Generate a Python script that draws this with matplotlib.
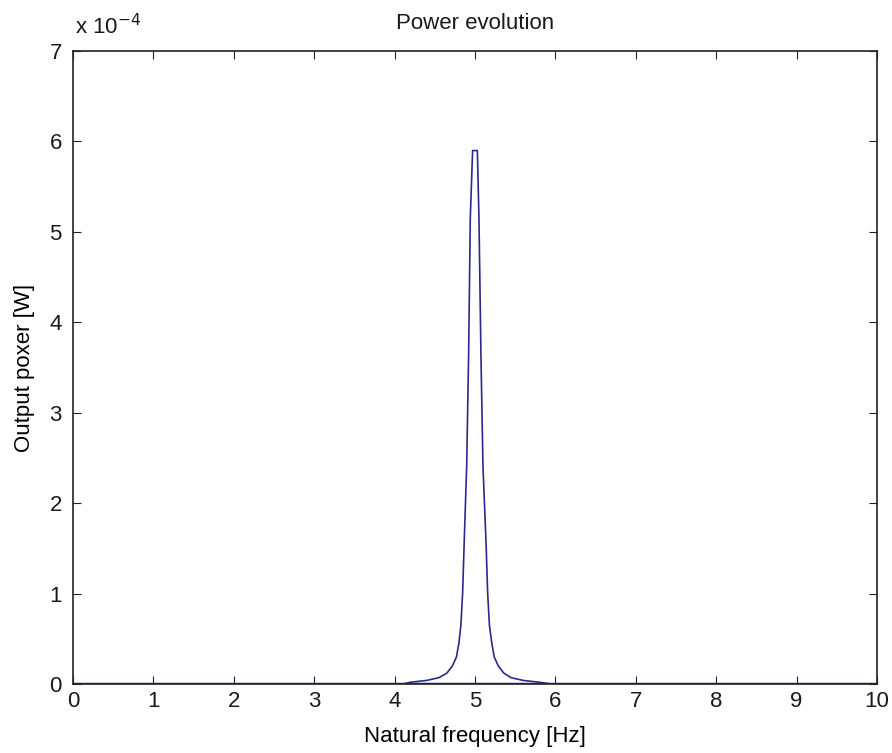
import matplotlib
matplotlib.use('Agg')
import matplotlib.pyplot as plt

# frequency [Hz] and output power [x 1e-4 W]
freq = [0.0, 4.1, 4.2, 4.4, 4.55, 4.65, 4.72, 4.77, 4.80, 4.825, 4.847, 4.867,
        4.897, 4.921, 4.942, 4.971, 5.03, 5.05, 5.075, 5.10, 5.137, 5.158,
        5.18, 5.21, 5.24, 5.29, 5.36, 5.45, 5.6, 5.8, 5.95, 10.0]
power = [0.0, 0.0, 0.02, 0.04, 0.07, 0.12, 0.2, 0.3, 0.45, 0.65, 1.01, 1.59,
         2.40, 3.62, 5.15, 5.90, 5.90, 5.15, 3.62, 2.40, 1.59, 1.01,
         0.65, 0.45, 0.3, 0.2, 0.12, 0.07, 0.04, 0.02, 0.0, 0.0]

xticks = [0, 1, 2, 3, 4, 5, 6, 7, 8, 9, 10]
yticks = [0, 1, 2, 3, 4, 5, 6, 7]


def graf():
    plt.rcParams['font.family'] = ['Liberation Sans', 'DejaVu Sans']
    plt.rcParams['font.size'] = 16
    plt.rcParams['text.color'] = '#1a1a1a'

    fig = plt.figure(figsize=(8.92, 7.53), dpi=100)
    ax = fig.add_axes([0.0818, 0.0916, 0.9013, 0.8406])

    ax.plot(freq, power, color='#2a2a8c', linewidth=1.2)
    ax.axhline(0, color='#2a2a8c', linewidth=2.5)

    ax.set_xlim(0, 10)
    ax.set_ylim(0, 7)
    ax.set_xticks(xticks)
    ax.set_yticks(yticks)
    ax.tick_params(direction='in', top=True, right=True, length=6, width=0.8,
                   labelsize=16, color='#222222', labelcolor='#1a1a1a')
    ax.tick_params(axis='y', pad=8)
    ax.tick_params(axis='x', pad=5)
    for s in ax.spines.values():
        s.set_linewidth(1.2)
        s.set_color('#222222')

    ax.set_title('Power evolution', fontsize=16, pad=16)
    ax.set_xlabel('Natural frequency [Hz]', fontsize=16, labelpad=10)
    ax.set_ylabel('Output poxer [W]', fontsize=16, labelpad=10)
    ax.text(0.002, 1.018, 'x 10$^{-4}$', transform=ax.transAxes, fontsize=16,
            ha='left', va='bottom')

    fig.savefig('out.png', dpi=100)


if __name__ == '__main__':
    graf()
